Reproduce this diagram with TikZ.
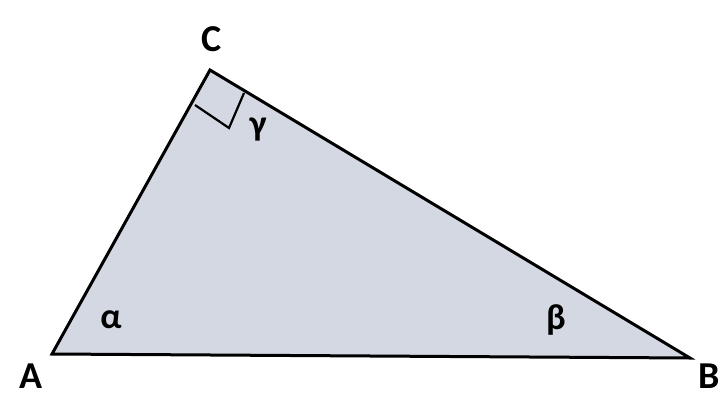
\documentclass[tikz,border=0pt]{standalone}
\usepackage{fontspec}
\setmainfont{Carlito}
\definecolor{trifill}{HTML}{D3D8E2}
\begin{document}
\begin{tikzpicture}[x=1pt,y=-1pt,
  lbl/.style={font=\bfseries\fontsize{38}{40}\selectfont,inner sep=0pt},
  glbl/.style={font=\bfseries\fontsize{36}{38}\selectfont,inner sep=0pt},
  edge/.style={line width=3pt,line join=miter}]
\useasboundingbox (0,0) rectangle (726,397);
\coordinate (A) at (52,354);
\coordinate (B) at (690,358);
\coordinate (C) at (210,70);
\coordinate (S1) at (195,105);
\coordinate (S3) at (244,93);
\coordinate (S2) at (229,128);
\fill[trifill] (A) -- (B) -- (C) -- cycle;
\draw[line width=2.2pt] (S1) -- (S2) -- (S3);
\draw[edge] (A) -- (B) -- (C) -- cycle;
\node[lbl] (lC) at (212,39) {C};
\node[lbl] (lA) at (31,376) {A};
\node[lbl] (lB) at (709,376) {B};
\node[glbl] (la) at (111,320) {α};
\node[glbl] (lb) at (556,320) {β};
\node[glbl] (lg) at (258,130) {γ};
\end{tikzpicture}
\end{document}
